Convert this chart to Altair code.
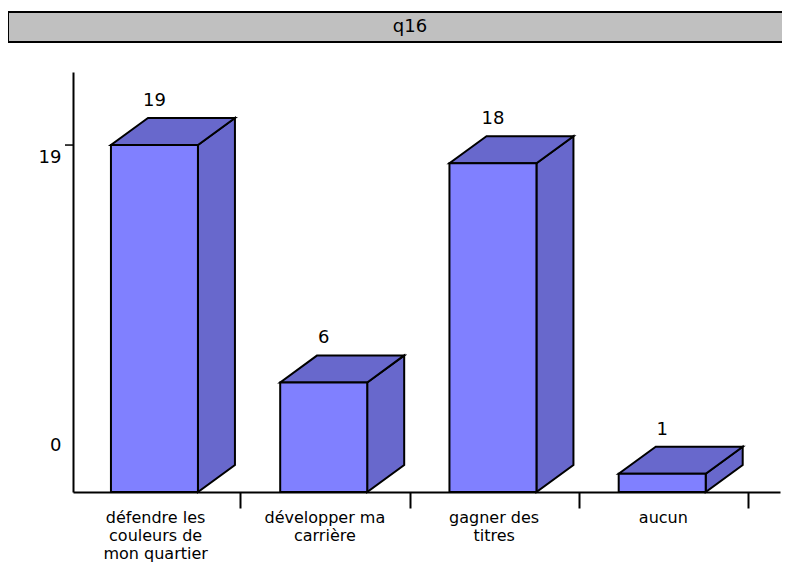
import altair as alt
import pandas as pd

# ---- data ----
categories = ["défendre les\ncouleurs de\nmon quartier", "développer ma\ncarrière",
              "gagner des\ntitres", "aucun"]
values = [19, 6, 18, 1]
value_labels = ["19", "6", "18", "1"]
title_text = "q16"
y_axis_ticks = [19, 3.23]          # positions of the two printed y labels
y_axis_texts = ["19", "0"]

# ---- geometry (style) ----
FRONT_L, FRONT_R = 0.236, 0.750    # front face inside each category cell
DX = 0.2186                         # 3D depth, x units
DY = 1.479                          # 3D depth, y units
FRONT = "#8080ff"
SIDE = "#6868cc"
FONT = "DejaVu Sans"

W, H = 707, 420
xs = alt.Scale(domain=[0.0118, 4.189], nice=False, zero=False)
ys = alt.Scale(domain=[0, 23], nice=False)

front = pd.DataFrame({
    "cat": list(range(len(values))),
    "x0": [i + FRONT_L for i in range(len(values))],
    "x1": [i + FRONT_R for i in range(len(values))],
    "v": values,
    "lab": value_labels,
    "xc": [i + (FRONT_L + FRONT_R) / 2 for i in range(len(values))],
    "vt": [v + DY for v in values],
})

top_rows, side_rows = [], []
for i, v in enumerate(values):
    x0, x1 = i + FRONT_L, i + FRONT_R
    top_rows += [dict(cat=i, y=v, xa=x0, xb=x1), dict(cat=i, y=v + DY, xa=x0 + DX, xb=x1 + DX)]
    side_rows += [dict(cat=i, x=x1, ylo=0, yhi=v), dict(cat=i, x=x1 + DX, ylo=DY, yhi=v + DY)]
top = pd.DataFrame(top_rows)
side = pd.DataFrame(side_rows)
labels = pd.DataFrame({"cat": categories, "xc": [i + 0.5 for i in range(len(categories))]})
title_df = pd.DataFrame({"t": [title_text]})

label_expr = " : ".join(
    [f"datum.value == {v} ? '{t}'" for v, t in zip(y_axis_ticks, y_axis_texts)]) + " : ''"

base_x_axis = alt.Axis(values=[1, 2, 3, 4], labels=False, tickSize=16, tickColor="black",
                       tickWidth=2, domainColor="black", domainWidth=2, grid=False, title=None)
y_axis = alt.Axis(values=y_axis_ticks, labelExpr=label_expr, ticks=False, labelPadding=12,
                  labelOffset=12, labelFont=FONT, labelFontSize=18, labelColor="black",
                  domainColor="black", domainWidth=2, grid=False, title=None)

side_layer = alt.Chart(side).mark_area(color=SIDE, stroke="black", strokeWidth=2,
                                       orient="vertical").encode(
    x=alt.X("x:Q", scale=xs, axis=base_x_axis),
    y=alt.Y("yhi:Q", scale=ys, axis=y_axis),
    y2="ylo:Q",
    detail="cat:N",
)
top_layer = alt.Chart(top).mark_area(color=SIDE, stroke="black", strokeWidth=2,
                                     orient="horizontal").encode(
    y=alt.Y("y:Q", scale=ys),
    x=alt.X("xa:Q", scale=xs),
    x2="xb:Q",
    detail="cat:N",
)
front_layer = alt.Chart(front).mark_bar(color=FRONT, stroke="black", strokeWidth=2).encode(
    x=alt.X("x0:Q", scale=xs), x2="x1:Q",
    y=alt.Y("v:Q", scale=ys), y2=alt.datum(0),
)
val_layer = alt.Chart(front).mark_text(font=FONT, fontSize=18, color="black", dy=-17,
                                       baseline="middle").encode(
    x=alt.X("xc:Q", scale=xs), y=alt.Y("vt:Q", scale=ys), text="lab:N",
)
cat_layer = alt.Chart(labels).mark_text(font=FONT, fontSize=16, color="black", lineBreak="\n",
                                        lineHeight=18, baseline="top", align="center").encode(
    x=alt.X("xc:Q", scale=xs), y=alt.value(H + 18), text="cat:N",
)
tick19 = alt.Chart(pd.DataFrame({"v": [y_axis_ticks[0]]})).mark_rule(
    color="black", strokeWidth=1.5).encode(
    y=alt.Y("v:Q", scale=ys), x=alt.value(-8), x2=alt.value(0),
)
title_box = alt.Chart(title_df).mark_rect(fill="#c0c0c0", stroke="black", strokeWidth=2).encode(
    x=alt.value(-65), x2=alt.value(760), y=alt.value(-60), y2=alt.value(-30),
)
title_txt = alt.Chart(title_df).mark_text(font=FONT, fontSize=18, color="black",
                                          baseline="middle").encode(
    x=alt.value(337), y=alt.value(-45), text="t:N",
)

chart = alt.layer(title_box, title_txt, side_layer, top_layer, front_layer, val_layer,
                  cat_layer, tick19).properties(
    width=W, height=H,
    autosize=alt.AutoSizeParams(type="none"),
    padding={"left": 65, "top": 64, "right": 2, "bottom": 72},
    background="white",
).configure_view(stroke=None)

chart.save("out.html", embed_options={"renderer": "svg", "actions": False})
